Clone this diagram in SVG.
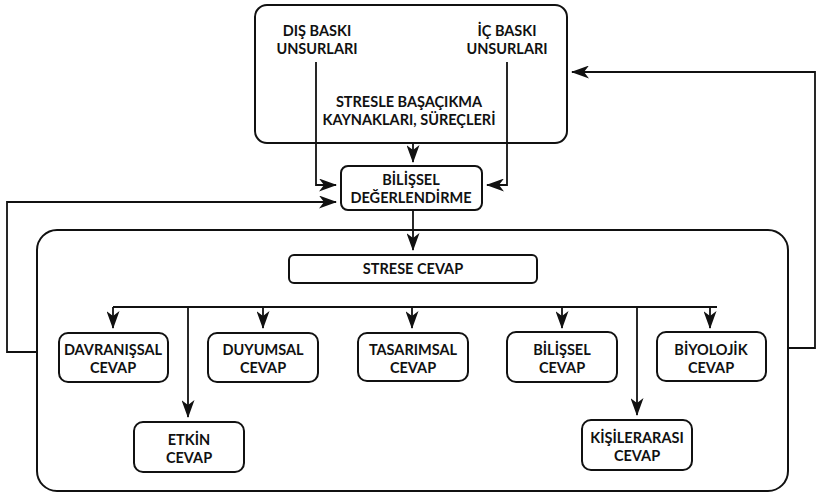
<svg xmlns="http://www.w3.org/2000/svg" width="819" height="493" viewBox="0 0 819 493">
  <style>
    .box { fill: #fff; stroke: #111; stroke-width: 2; }
    .frame { fill: none; stroke: #111; stroke-width: 2; }
    .lbl { font-family: Lato, "Open Sans", "DejaVu Sans", sans-serif; font-weight: bold; font-size: 14.5px; fill: #111; text-anchor: middle; }
    .wire { fill: none; stroke: #111; stroke-width: 1.8; }
  </style>
  <defs>
    <marker id="arr" viewBox="0 0 18 13" refX="17" refY="6.5" markerWidth="18" markerHeight="13" markerUnits="userSpaceOnUse" orient="auto">
      <path d="M0,0 L18,6.5 L0,13 L5,6.5 z" fill="#111"/>
    </marker>
  </defs>
  <rect width="819" height="493" fill="#fff"/>

  <!-- outer frames -->
  <g id="pressure-frame">
    <rect class="frame" x="255" y="5" width="312" height="138" rx="12"/>
    <text class="lbl" x="317" y="36">DIŞ BASKI</text>
    <text class="lbl" x="317" y="54">UNSURLARI</text>
    <text class="lbl" x="507" y="36">İÇ BASKI</text>
    <text class="lbl" x="507" y="54">UNSURLARI</text>
    <text class="lbl" x="409" y="107">STRESLE BAŞAÇIKMA</text>
    <text class="lbl" x="409" y="125">KAYNAKLARI, SÜREÇLERİ</text>
  </g>
  <g id="response-frame">
    <rect class="frame" x="37" y="230" width="751" height="261" rx="20"/>
  </g>

  <!-- connectors -->
  <g id="connectors">
    <path class="wire" d="M316,62 V185 H336" marker-end="url(#arr)"/>
    <path class="wire" d="M507,62 V185 H487" marker-end="url(#arr)"/>
    <path class="wire" d="M413,143 V162" marker-end="url(#arr)"/>
    <path class="wire" d="M37,352 H7 V202 H336" marker-end="url(#arr)"/>
    <path class="wire" d="M788,348 H815 V72 H572" marker-end="url(#arr)"/>
    <path class="wire" d="M413,210 V250" marker-end="url(#arr)"/>
    <path class="wire" d="M113,307 H717"/>
    <path class="wire" d="M113,307 V328" marker-end="url(#arr)"/>
    <path class="wire" d="M188,307 V417" marker-end="url(#arr)"/>
    <path class="wire" d="M263,307 V328" marker-end="url(#arr)"/>
    <path class="wire" d="M412,307 V328" marker-end="url(#arr)"/>
    <path class="wire" d="M562,307 V328" marker-end="url(#arr)"/>
    <path class="wire" d="M637,307 V415" marker-end="url(#arr)"/>
    <path class="wire" d="M710,307 V328" marker-end="url(#arr)"/>
  </g>

  <!-- nodes -->
  <g id="bilissel-degerlendirme">
    <rect class="box" x="341" y="166" width="141" height="44" rx="7"/>
    <text class="lbl" x="411" y="185">BİLİŞSEL</text>
    <text class="lbl" x="411" y="203">DEĞERLENDİRME</text>
  </g>
  <g id="strese-cevap">
    <rect class="box" x="289" y="255" width="248" height="28" rx="5"/>
    <text class="lbl" x="413" y="274">STRESE CEVAP</text>
  </g>
  <g id="davranissal">
    <rect class="box" x="59" y="333" width="109" height="49" rx="9"/>
    <text class="lbl" x="113" y="355">DAVRANIŞSAL</text>
    <text class="lbl" x="113" y="373">CEVAP</text>
  </g>
  <g id="duyumsal">
    <rect class="box" x="208" y="333" width="110" height="49" rx="9"/>
    <text class="lbl" x="263" y="355">DUYUMSAL</text>
    <text class="lbl" x="263" y="373">CEVAP</text>
  </g>
  <g id="tasarimsal">
    <rect class="box" x="358" y="333" width="110" height="48" rx="9"/>
    <text class="lbl" x="413" y="355">TASARIMSAL</text>
    <text class="lbl" x="413" y="373">CEVAP</text>
  </g>
  <g id="bilissel-cevap">
    <rect class="box" x="507" y="332" width="110" height="50" rx="9"/>
    <text class="lbl" x="562" y="355">BİLİŞSEL</text>
    <text class="lbl" x="562" y="373">CEVAP</text>
  </g>
  <g id="biyolojik">
    <rect class="box" x="657" y="332" width="109" height="49" rx="9"/>
    <text class="lbl" x="711" y="355">BİYOLOJİK</text>
    <text class="lbl" x="711" y="373">CEVAP</text>
  </g>
  <g id="etkin">
    <rect class="box" x="134" y="422" width="110" height="50" rx="9"/>
    <text class="lbl" x="189" y="445">ETKİN</text>
    <text class="lbl" x="189" y="463">CEVAP</text>
  </g>
  <g id="kisilerarasi">
    <rect class="box" x="582" y="420" width="110" height="50" rx="9"/>
    <text class="lbl" x="637" y="443">KİŞİLERARASI</text>
    <text class="lbl" x="637" y="461">CEVAP</text>
  </g>
</svg>
